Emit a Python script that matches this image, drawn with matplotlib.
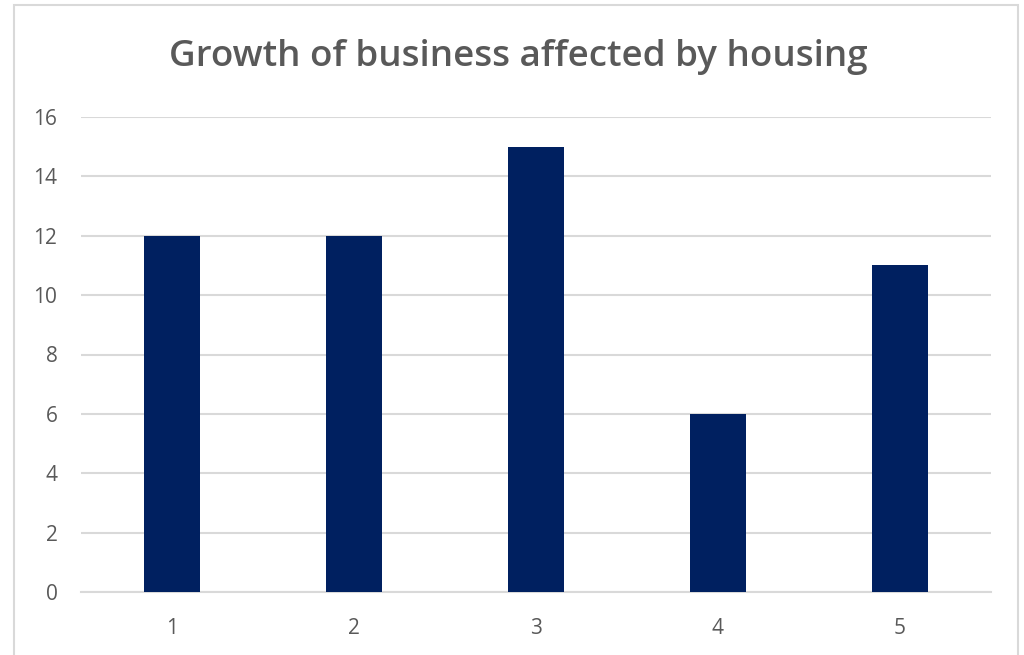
import matplotlib
matplotlib.use("Agg")
import matplotlib.pyplot as plt
from matplotlib.patches import Rectangle

categories = ["1", "2", "3", "4", "5"]
values = [12, 12, 15, 6, 11]
yticks = [0, 2, 4, 6, 8, 10, 12, 14, 16]
title = "Growth of business affected by housing"

text_color = "#595959"
bar_color = "#002060"
grid_color = "#d9d9d9"

plt.rcParams["font.family"] = ["Open Sans", "DejaVu Sans"]

fig = plt.figure(figsize=(10.24, 6.55), dpi=100)
fig.patch.set_facecolor("white")

# chart frame
fig.patches.append(Rectangle((14 / 1024, -0.05), (1018 - 14) / 1024, 1.05 - 5 / 655,
                             transform=fig.transFigure, fill=False,
                             edgecolor=grid_color, linewidth=1.5))

ax = fig.add_axes([81 / 1024, 1 - 592 / 655, (991 - 81) / 1024, (592 - 117) / 655])
x = list(range(1, len(categories) + 1))
ax.bar(x, values, width=0.31, color=bar_color, zorder=3)

ax.set_xlim(0.5, len(categories) + 0.5)
ax.set_ylim(0, 16)
ax.set_yticks(yticks)
ax.set_xticks(x)
ax.set_xticklabels(categories)
ax.yaxis.grid(True, color=grid_color, linewidth=1.5, zorder=0)
ax.set_axisbelow(True)
for s in ["top", "right", "left"]:
    ax.spines[s].set_visible(False)
ax.spines["bottom"].set_color(grid_color)
ax.spines["bottom"].set_linewidth(1.5)
ax.tick_params(axis="both", length=0, colors=text_color, labelsize=15)
ax.tick_params(axis="y", pad=17)
ax.tick_params(axis="x", pad=19)

fig.text(518 / 1024, 1 - 57 / 655, title, ha="center", va="center",
         fontsize=26.5, fontweight="semibold", color=text_color)

fig.savefig("out.png", dpi=100, facecolor="white")
